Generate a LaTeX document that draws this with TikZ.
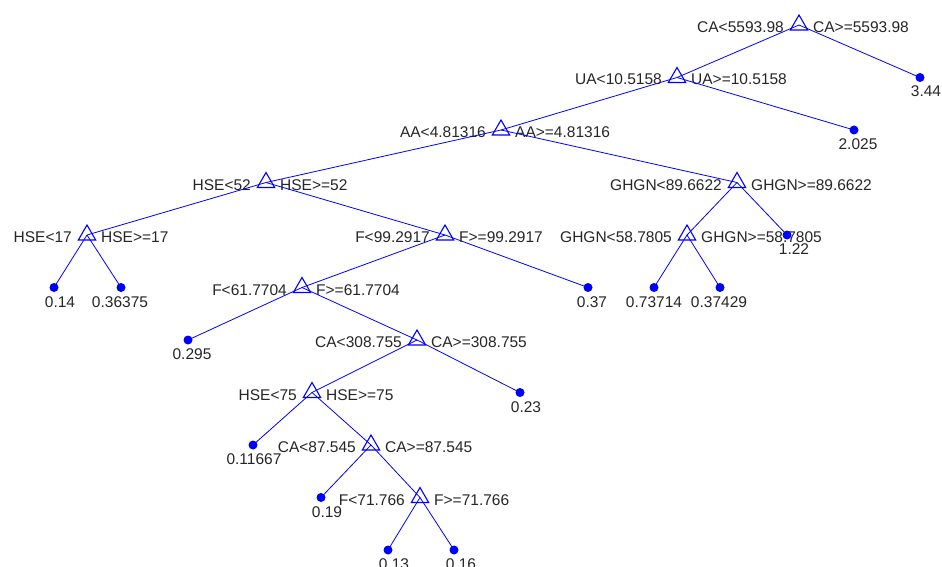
\documentclass[tikz,border=0pt]{standalone}
\usepackage{fontspec}
\setmainfont{Liberation Sans}
\usetikzlibrary{positioning,shapes.geometric}
\definecolor{treeblue}{RGB}{0,0,255}
\definecolor{labgray}{RGB}{38,38,38}
\tikzset{
  split/.style={regular polygon,regular polygon sides=3,draw=treeblue,line width=1.1pt,inner sep=0pt,minimum size=20pt},
  leaf/.style={circle,fill=treeblue,inner sep=0pt,minimum size=9pt},
  edge/.style={treeblue,line width=0.8pt},
  cut/.style={text=labgray,inner sep=0pt,font=\fontsize{15.5}{18}\selectfont},
}

\begin{document}
\begin{tikzpicture}[x=1pt,y=-1pt]
  \useasboundingbox (0,0) rectangle (942,567);

  % split nodes: name/x/level/left/right
  \foreach \n/\x/\k/\l/\r in {ca1/799/0/CA<5593.98/CA>=5593.98,
      ua/677/1/UA<10.5158/UA>=10.5158, aa/501/2/AA<4.81316/AA>=4.81316,
      hse1/266/3/HSE<52/HSE>=52, gh1/737/3/GHGN<89.6622/GHGN>=89.6622,
      hse2/87/4/HSE<17/HSE>=17, f1/445/4/F<99.2917/F>=99.2917,
      gh2/687/4/GHGN<58.7805/GHGN>=58.7805, f2/302/5/F<61.7704/F>=61.7704,
      ca2/417/6/CA<308.755/CA>=308.755, hse3/312/7/HSE<75/HSE>=75,
      ca3/371/8/CA<87.545/CA>=87.545, f3/420/9/F<71.766/F>=71.766}
  {
    \node[split] (\n) at (\x,25+52.5*\k) {};
    \node[cut,anchor=base east] at ([xshift=-15pt,yshift=-7.5pt]\n.center) {\l};
    \node[cut,anchor=base west] at ([xshift=14pt,yshift=-7.5pt]\n.center) {\r};
  }

  % leaves: name/x/level/value/shift
  \foreach \n/\x/\k/\v/\s in {v1/920/1/3.44/6, v2/854/2/2.025/4, v3/787/4/1.22/7,
      v4/54/5/0.14/6, v5/121/5/0.36375/-1, v6/588/5/0.37/4, v7/654/5/0.73714/0,
      v8/720/5/0.37429/-1, v9/188/6/0.295/4, v10/520/7/0.23/6, v11/253/8/0.11667/1,
      v12/321/9/0.19/6, v13/388/10/0.13/6, v14/454/10/0.16/7}
  {
    \node[leaf] (\n) at (\x,25+52.5*\k) {};
    \node[cut,anchor=base] at ([xshift=\s pt,yshift=-19.5pt]\n.center) {\v};
  }

  \foreach \a/\b in {ca1/ua, ca1/v1, ua/aa, ua/v2, aa/hse1, aa/gh1,
      hse1/hse2, hse1/f1, gh1/gh2, gh1/v3, hse2/v4, hse2/v5, f1/f2, f1/v6,
      gh2/v7, gh2/v8, f2/v9, f2/ca2, ca2/hse3, ca2/v10, hse3/v11, hse3/ca3,
      ca3/v12, ca3/f3, f3/v13, f3/v14}
    \draw[edge] (\a.center) -- (\b.center);
\end{tikzpicture}
\end{document}
